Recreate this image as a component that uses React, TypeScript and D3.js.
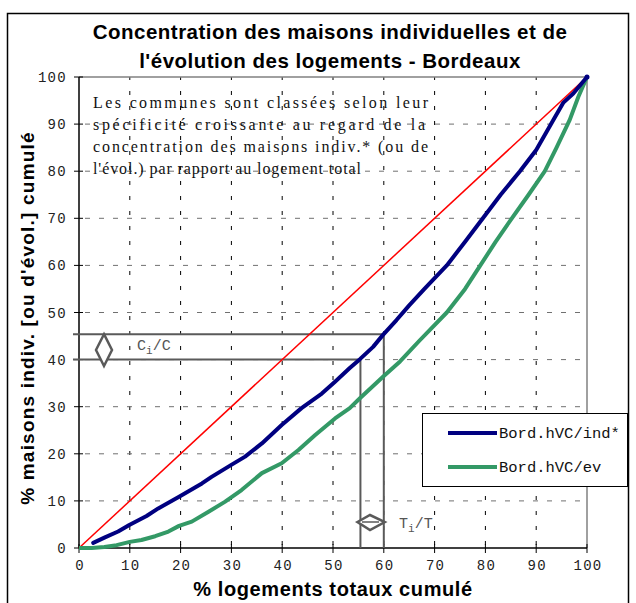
import React from "react";
import * as d3 from "d3";

const titleLines = ["Concentration des maisons individuelles et de", "l'évolution des logements - Bordeaux"];
const noteLines = [
  "Les communes sont classées selon leur",
  "spécificité croissante au regard de la",
  "concentration des maisons indiv.* (ou de",
  "l'évol.) par rapport au logement total",
];
const xTicks = [0, 10, 20, 30, 40, 50, 60, 70, 80, 90, 100];
const yTicks = [0, 10, 20, 30, 40, 50, 60, 70, 80, 90, 100];
const seriesNames = ["Bord.hVC/ind*", "Bord.hVC/ev"];
const seriesColors = ["#000080", "#339966"];

const indX = [2.8, 5, 7.7, 9.9, 13.3, 15.6, 19.7, 24.2, 26.1, 29.9, 32.7, 36, 39.9, 43.8, 47.8, 50.4, 53.3, 55.3, 57.9, 59.8, 62.5, 65, 68, 72.4, 76, 79.5, 83, 86.8, 90, 93.4, 95.3, 97.3, 100];
const indY = [1.1, 2.2, 3.5, 4.9, 6.8, 8.4, 10.9, 13.7, 15.1, 17.6, 19.4, 22.2, 26.1, 29.7, 32.8, 35.3, 38.2, 40.1, 42.7, 45.2, 48.4, 51.5, 55, 60, 65, 70, 75, 80, 84.5, 90.9, 94.5, 96.5, 100];
const evX = [0, 2.5, 5, 7.4, 10, 12.3, 15, 17.6, 19.7, 22.2, 25.5, 28.7, 32, 36, 39.9, 43.2, 46.5, 50.4, 53.3, 55.3, 59.9, 63.2, 67, 72.4, 76, 79, 82, 85.2, 88.5, 91.7, 94, 96.6, 98.3, 100];
const evY = [0, 0, 0.2, 0.6, 1.3, 1.7, 2.5, 3.5, 4.7, 5.6, 7.7, 9.8, 12.3, 15.9, 18, 20.8, 24, 27.5, 29.7, 31.8, 36.4, 39.6, 44, 50, 55, 60, 65, 70, 75, 80, 85, 90.9, 95.8, 100];
const diagX = [0, 100];
const diagY = [0, 100];

// annotation: Ti/T and Ci/C markers
const markX = [55.4, 60];
const markY = [40, 45.4];

export default function App() {
  const x = d3.scaleLinear().domain([0, 100]).range([79, 587]);
  const y = d3.scaleLinear().domain([0, 100]).range([548, 77]);
  const line = d3
    .line<[number, number]>()
    .x((d) => x(d[0]))
    .y((d) => y(d[1]));
  const ind = indX.map((v, i) => [v, indY[i]] as [number, number]);
  const ev = evX.map((v, i) => [v, evY[i]] as [number, number]);
  const diag = diagX.map((v, i) => [v, diagY[i]] as [number, number]);
  const grey = "#808080";
  const annot = "#5a5a5a";
  const mono = "'Liberation Mono', 'DejaVu Sans Mono', monospace";
  const sans = "'Liberation Sans', Arial, sans-serif";
  const serif = "'Liberation Serif', 'Times New Roman', serif";

  const noteLen = [335, 332, 335, 268];

  return (
    <svg width={636} height={603} style={{ position: "absolute", left: 0, top: 0, background: "#fff" }}>
      <rect x={7.5} y={13.5} width={621} height={600} fill="#fff" stroke="#000" strokeWidth={1.5} />
      {titleLines.map((t, i) => (
        <text key={t} x={330} y={39 + i * 29} textAnchor="middle" fontFamily={sans} fontWeight="bold" fontSize={20.5} letterSpacing={0.5}>
          {t}
        </text>
      ))}
      {/* gridlines */}
      {xTicks.slice(1, -1).map((t) => (
        <line key={"gx" + t} x1={x(t)} x2={x(t)} y1={y(0)} y2={y(100)} stroke="#000" strokeWidth={1} strokeDasharray="4,11" strokeDashoffset={-3} />
      ))}
      {yTicks.slice(1, -1).map((t) => (
        <line key={"gy" + t} x1={x(0)} x2={x(100)} y1={y(t)} y2={y(t)} stroke="#707070" strokeWidth={1} strokeDasharray="5,9" strokeDashoffset={-6} />
      ))}
      {/* plot border */}
      <line x1={x(0)} x2={x(100)} y1={y(100)} y2={y(100)} stroke={grey} strokeWidth={1.5} />
      <line x1={x(100)} x2={x(100)} y1={y(100)} y2={y(0)} stroke={grey} strokeWidth={1.5} />
      {/* axes */}
      <line x1={x(0)} x2={x(0)} y1={y(0)} y2={y(100)} stroke="#000" strokeWidth={1.5} />
      <line x1={x(0)} x2={x(100)} y1={y(0)} y2={y(0)} stroke="#000" strokeWidth={1.5} />
      {yTicks.map((t) => (
        <g key={"yt" + t}>
          <line x1={x(0) - 5} x2={x(0) + 4} y1={y(t)} y2={y(t)} stroke="#000" strokeWidth={1} />
          <text x={67} y={y(t) + 5} textAnchor="end" fontFamily={mono} fontSize={14} letterSpacing={1.3} fill="#222">
            {t}
          </text>
        </g>
      ))}
      {xTicks.map((t) => (
        <g key={"xt" + t}>
          <line x1={x(t)} x2={x(t)} y1={y(0) - 4} y2={y(0) + 5} stroke="#000" strokeWidth={1} />
          <text x={x(t) + 1} y={570} textAnchor="middle" fontFamily={mono} fontSize={14} letterSpacing={1.3} fill="#222">
            {t}
          </text>
        </g>
      ))}
      {/* note */}
      {noteLines.map((t, i) => (
        <text key={t} x={93} y={108 + i * 22} fontFamily={serif} fontSize={16} fill="#111" textLength={noteLen[i]} lengthAdjust="spacing">
          {t}
        </text>
      ))}
      {/* annotation lines */}
      <line x1={73} x2={x(markX[1])} y1={y(markY[1])} y2={y(markY[1])} stroke={annot} strokeWidth={2} />
      <line x1={73} x2={x(markX[0])} y1={y(markY[0])} y2={y(markY[0])} stroke={annot} strokeWidth={2} />
      <line x1={x(markX[0])} x2={x(markX[0])} y1={y(markY[0])} y2={y(0)} stroke={annot} strokeWidth={2} />
      <line x1={x(markX[1])} x2={x(markX[1])} y1={y(markY[1])} y2={y(0)} stroke={annot} strokeWidth={2} />
      {/* double arrows */}
      <path d={`M104,${y(markY[1])} L112,350 L104,366 L96,350 Z`} fill="#fff" stroke={annot} strokeWidth={2.5} strokeLinejoin="miter" />
      <path d={`M${x(markX[0]) - 3},522 L370,515 L${x(markX[1]) + 1},522 L370,530 Z`} fill="#fff" stroke={annot} strokeWidth={2.5} />
      <line x1={362} x2={379} y1={522} y2={522} stroke={annot} strokeWidth={1.5} />
      <text x={137} y={350} fontFamily={mono} fontSize={15} fill="#555">
        C<tspan dy={4} fontSize={11}>i</tspan>
        <tspan dy={-4}>/C</tspan>
      </text>
      <text x={399} y={528} fontFamily={mono} fontSize={15} fill="#555">
        T<tspan dy={4} fontSize={11}>i</tspan>
        <tspan dy={-4}>/T</tspan>
      </text>
      {/* series */}
      <path d={line(diag) || ""} fill="none" stroke="#ff0000" strokeWidth={1.5} />
      <path d={line(ev) || ""} fill="none" stroke={seriesColors[1]} strokeWidth={4} strokeLinejoin="round" />
      <path d={line(ind) || ""} fill="none" stroke={seriesColors[0]} strokeWidth={4} strokeLinejoin="round" strokeLinecap="round" />
      <circle cx={x(100)} cy={y(100)} r={2.5} fill={seriesColors[0]} />
      {/* legend */}
      <rect x={422.5} y={413.5} width={205} height={73} fill="#fff" stroke="#000" strokeWidth={1} />
      {seriesNames.map((n, i) => (
        <g key={n}>
          <line x1={448} x2={497} y1={433 + i * 34} y2={433 + i * 34} stroke={seriesColors[i]} strokeWidth={4} />
          <text x={499} y={438 + i * 34} fontFamily={mono} fontSize={15.5} fill="#111">
            {n}
          </text>
        </g>
      ))}
      {/* axis titles */}
      <text x={333} y={596} textAnchor="middle" fontFamily={sans} fontWeight="bold" fontSize={20} letterSpacing={0.6}>
        % logements totaux cumulé
      </text>
      <text transform="translate(34,318) rotate(-90)" textAnchor="middle" fontFamily={sans} fontWeight="bold" fontSize={19} letterSpacing={1.2}>
        % maisons indiv. [ou d'évol.] cumulé
      </text>
    </svg>
  );
}
